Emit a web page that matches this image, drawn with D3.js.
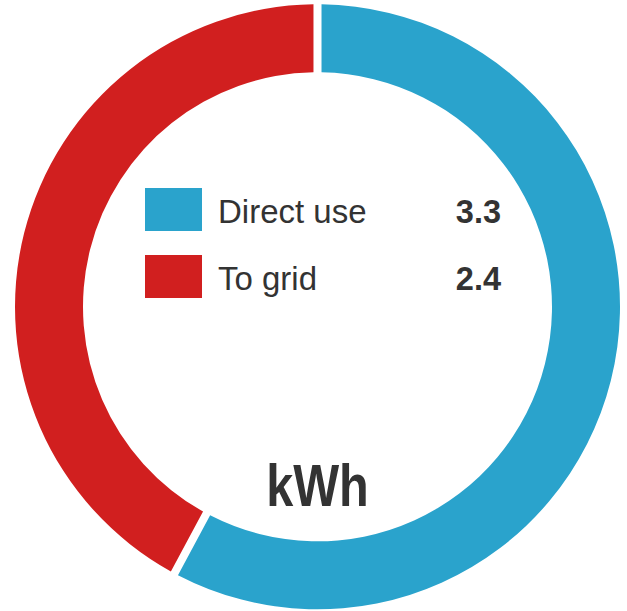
<!DOCTYPE html>
<html>
<head>
<meta charset="utf-8">
<script src="https://cdn.jsdelivr.net/npm/d3@7"></script>
<style>
  html, body { margin: 0; padding: 0; background: #fff; }
  svg { display: block; }
</style>
</head>
<body>
<svg id="chart" width="627" height="611"></svg>
<script>
const categories = ["Direct use", "To grid"];
const values = [3.3, 2.4];
const valueLabels = ["3.3", "2.4"];
const colors = ["#2aa3cc", "#d11f1f"];
const unitLabel = "kWh";

const svg = d3.select("#chart");
const cx = 317.5, cy = 306.8;
const outerR = 302.5, innerR = 234.5;

const pie = d3.pie().sort(null).value(d => d.value).padAngle(0.021);
const data = categories.map((c, i) => ({ name: c, value: values[i], label: valueLabels[i], color: colors[i] }));
const arc = d3.arc().innerRadius(innerR).outerRadius(outerR);

const g = svg.append("g").attr("transform", `translate(${cx},${cy})`);
g.selectAll("path").data(pie(data)).join("path")
  .attr("d", arc)
  .attr("fill", d => d.data.color);

// legend
const legendY = d3.scaleBand().domain(categories).range([188, 322]).paddingInner(0);
const leg = svg.append("g");
const rows = leg.selectAll("g").data(data).join("g")
  .attr("transform", d => `translate(0,${legendY(d.name)})`);
rows.append("rect")
  .attr("x", 145).attr("y", 0).attr("width", 57).attr("height", 43)
  .attr("fill", d => d.color);
rows.append("text")
  .attr("x", 218).attr("y", 35.3)
  .attr("font-family", "'Liberation Sans', Arial, sans-serif")
  .attr("font-size", 33)
  .attr("fill", "#333")
  .text(d => d.name);
rows.append("text")
  .attr("x", 501).attr("y", 35.3)
  .attr("text-anchor", "end")
  .attr("font-family", "'Liberation Sans', Arial, sans-serif")
  .attr("font-weight", "bold")
  .attr("font-size", 32.5)
  .attr("fill", "#333")
  .text(d => d.label);

svg.append("text")
  .attr("transform", "translate(317.5,505.7) scale(0.81,1)")
  .attr("text-anchor", "middle")
  .attr("font-family", "'Liberation Sans', Arial, sans-serif")
  .attr("font-weight", "bold")
  .attr("font-size", 60)
  .attr("fill", "#333")
  .text(unitLabel);
</script>
</body>
</html>
